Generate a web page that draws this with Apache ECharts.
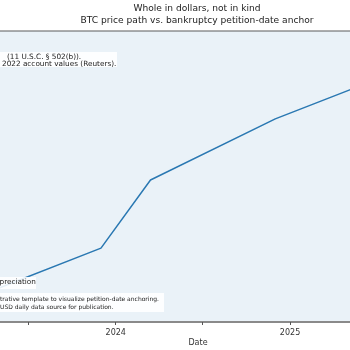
<!DOCTYPE html>
<html>
<head>
<meta charset="utf-8">
<script src="https://cdn.jsdelivr.net/npm/echarts@6/dist/echarts.min.js"></script>
<style>
  html, body { margin: 0; padding: 0; background: #ffffff; overflow: hidden; }
  body { position: relative; width: 350px; height: 350px; }
  /* plot area runs past both edges of the window */
  #chart { position: absolute; left: -30px; top: 0; width: 421px; height: 350px; }
</style>
</head>
<body>
<div id="chart"></div>
<script>
// BTC price path (USD) sampled at its turning points
const dates = ['2023-05-01', '2023-12-01', '2024-03-14', '2024-12-01', '2025-06-01'];
const prices = [11700, 25400, 48800, 69800, 81400];

// Axis extent and ticks
const axisStart = '2023-03-01';
const axisEnd = '2025-08-01';
const tickDates = ['2023-07-01', '2024-01-01', '2024-07-01', '2025-01-01', '2025-07-01'];
const labelDates = ['2024-01-01', '2025-01-01'];

const titleLines = ['Whole in dollars, not in kind', 'BTC price path vs. bankruptcy petition-date anchor'];
const noteTop = ['(11 U.S.C. § 502(b)).', '2022 account values (Reuters).'];
const noteLegend = 'preciation';
const noteBottom = ['trative template to visualize petition-date anchoring.', 'USD daily data source for publication.'];

// dates are plotted as UTC timestamps on a numeric axis
const ts = d => Date.parse(d + 'T00:00:00Z');
const font = 'DejaVu Sans';
const shift = 30; // chart canvas starts this far left of the window
const boxFill = 'rgba(255,255,255,0.88)';

const chart = echarts.init(document.getElementById('chart'), null, { renderer: 'canvas' });

chart.setOption({
  animation: false,
  backgroundColor: '#ffffff',
  grid: {
    left: 0, right: 0, top: 31, bottom: 28,
    show: true,
    backgroundColor: '#eaf2f8',
    borderColor: '#5a5a5a',
    borderWidth: 1
  },
  xAxis: {
    type: 'value',
    min: ts(axisStart),
    max: ts(axisEnd),
    axisLine: { lineStyle: { color: '#8a8a8a', width: 2 } },
    axisTick: {
      customValues: tickDates.map(ts),
      length: 3,
      lineStyle: { color: '#555', width: 1 }
    },
    axisLabel: {
      customValues: labelDates.map(ts),
      formatter: v => String(new Date(v).getUTCFullYear()),
      color: '#333', fontFamily: font, fontSize: 8, margin: 6.5
    },
    splitLine: { show: false }
  },
  yAxis: {
    type: 'value', min: 0, max: 100000,
    axisLine: { show: false }, axisTick: { show: false },
    axisLabel: { show: false }, splitLine: { show: false }
  },
  series: [{
    type: 'line',
    data: dates.map((d, i) => [ts(d), prices[i]]),
    showSymbol: false,
    lineStyle: { color: '#2a78b2', width: 1.5 }
  }],
  graphic: [{
    type: 'group', x: shift, y: 0, z: 100,
    children: [
      {
        type: 'text', x: 197, y: 3, z: 100,
        style: {
          text: titleLines.join('\n'), fill: '#222', font: '9.1px ' + font,
          textAlign: 'center', lineHeight: 12
        }
      },
      { type: 'rect', z: 100, shape: { x: -10, y: 52, width: 127, height: 15 }, style: { fill: boxFill } },
      { type: 'text', z: 101, x: 7, y: 54, style: { text: noteTop[0], fill: '#222', font: '7.3px ' + font } },
      { type: 'text', z: 101, x: 2, y: 60.5, style: { text: noteTop[1], fill: '#222', font: '7.3px ' + font } },
      { type: 'rect', z: 100, shape: { x: -10, y: 277, width: 46, height: 12 }, style: { fill: boxFill } },
      { type: 'text', z: 101, x: -0.5, y: 279, style: { text: noteLegend, fill: '#222', font: '7.3px ' + font } },
      { type: 'rect', z: 100, shape: { x: -10, y: 293, width: 174, height: 19 }, style: { fill: boxFill } },
      { type: 'text', z: 101, x: 0, y: 296.5, style: { text: noteBottom[0], fill: '#222', font: '6px ' + font } },
      { type: 'text', z: 101, x: 0, y: 304, style: { text: noteBottom[1], fill: '#222', font: '6px ' + font } },
      { type: 'text', z: 100, x: 198, y: 338.5, style: { text: 'Date', fill: '#333', font: '8px ' + font, textAlign: 'center' } }
    ]
  }]
});
</script>
</body>
</html>
